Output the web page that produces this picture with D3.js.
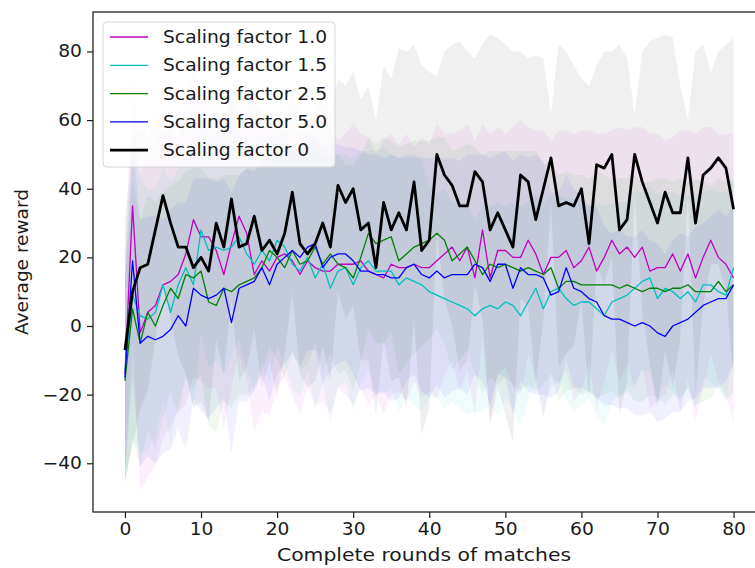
<!DOCTYPE html>
<html>
<head>
<meta charset="utf-8">
<script src="https://cdn.jsdelivr.net/npm/d3@7"></script>
<style>
  html, body { margin: 0; padding: 0; background: #fff; }
  svg { display: block; font-family: "DejaVu Sans", sans-serif; }
</style>
</head>
<body>
<script>
const rounds = d3.range(0, 81);

const labels = ['Scaling factor 1.0', 'Scaling factor 1.5', 'Scaling factor 2.5', 'Scaling factor 5.0', 'Scaling factor 0'];

const meanF10 = [-14,35,-2,4,6,12,13,15,21,31,26,26,22,15,24,32,27,15,19,16,20,21,19,15,19,17,16,16,18,18,18,19,16,15,14,18,17,17,18,17,17,19,21,23,19,23,14,28,14,22,22,20,20,25,21,15,20,20,22,17,19,23,16,20,25,21,23,20,23,16,17,17,21,16,21,14,20,25,20,18,14];
const meanF15 = [-13,9,3,2,4,12,4,12,17,12,28,22,23,22,23,26,21,18,22,19,25,23,18,16,20,14,18,11,16,17,12,17,19,16,16,16,12,14,13,12,10,9,8,7,6,5,3,5,6,5,7,6,3,7,11,5,10,11,8,6,7,7,5,3,7,8,9,11,13,14,8,11,10,8,10,7,12,12,10,9,17];
const meanF25 = [-16,5,-5,4,0,6,11,8,15,14,16,7,6,11,10,12,13,14,17,22,20,17,22,18,19,23,18,21,18,17,14,20,27,24,25,26,19,21,23,24,25,27,25,19,21,23,19,15,18,17,18,17,16,17,16,15,17,11,13,13,12,12,12,12,12,11,12,11,10,11,11,10,11,11,12,10,10,10,13,10,12];
const meanF50 = [-15,19,-5,-3,-4,-3,-1,3,0,11,9,8,9,11,1,11,12,13,17,12,18,20,22,20,23,24,17,20,21,21,19,16,16,15,15,14,14,17,18,15,14,16,14,15,15,15,18,17,13,18,18,11,17,15,15,14,9,10,17,11,10,8,7,3,2,2,1,0,1,0,-2,-3,0,1,2,4,6,7,8,8,12];
const meanF0 = [-7,10,17,18,28,38,30,23,23,17,20,16,30,23,37,23,24,32,22,25,21,27,39,24,21,24,30,23,41,36,40,28,30,17,36,28,33,28,42,22,25,50,44,41,35,35,45,42,28,33,28,23,44,42,31,40,49,35,36,35,40,24,47,46,50,28,31,50,42,36,30,39,33,33,49,30,44,46,49,46,34];

const stdF10 = [30,40,46,48,47,45,42,40,44,46,42,44,40,45,42,40,43,46,44,42,38,36,39,41,37,40,38,42,36,38,41,37,39,35,40,38,36,39,34,38,36,40,35,33,38,36,40,31,42,36,34,38,40,33,36,42,34,37,35,39,38,34,40,36,32,37,34,38,35,40,39,37,34,41,36,42,38,33,36,38,42];
const stdF15 = [34,42,40,38,36,34,38,34,32,36,30,34,33,36,32,30,34,36,33,35,31,34,36,37,33,38,35,39,34,33,37,34,32,35,36,34,37,35,36,37,31,30,32,29,30,31,28,30,29,31,28,30,32,29,27,31,28,27,29,31,30,28,31,32,29,28,27,28,26,27,30,28,29,30,28,31,27,28,29,30,26];
const stdF25 = [30,38,36,34,36,33,30,34,30,32,30,36,37,33,34,32,33,32,30,28,30,32,29,31,30,28,31,29,32,30,33,30,28,29,30,28,33,32,31,30,29,28,30,32,31,30,33,35,33,34,33,34,35,34,35,32,31,33,32,31,32,31,33,32,31,32,31,33,32,31,32,33,31,32,30,33,32,31,30,32,31];
const stdF50 = [28,34,36,35,36,34,35,33,36,32,34,35,33,32,38,33,34,32,31,34,32,31,30,32,30,31,34,33,32,31,33,35,34,35,34,36,35,33,32,34,35,33,35,34,33,35,32,33,36,32,33,37,33,34,35,34,30,29,27,29,28,27,28,26,25,26,25,26,27,25,26,24,25,26,24,25,24,25,26,24,23];
const stdF0 = [38,45,41,37,32,24,28,32,37,41,42,44,34,37,29,39,36,33,40,35,42,35,29,38,39,40,36,39,31,34,34,38,40,43,40,44,48,52,40,54,49,23,36,41,48,45,33,40,57,51,54,57,36,36,48,38,13,47,44,41,32,46,29,34,30,54,47,12,38,47,54,46,51,37,11,50,38,28,31,36,50];

const xTicks = [0, 10, 20, 30, 40, 50, 60, 70, 80],
      yTicks = [-40, -20, 0, 20, 40, 60, 80];

const series = [
  { name: labels[0], mean: meanF10, std: stdF10, color: '#bf00bf', width: 1.3 },
  { name: labels[1], mean: meanF15, std: stdF15, color: '#00bfbf', width: 1.3 },
  { name: labels[2], mean: meanF25, std: stdF25, color: '#008000', width: 1.3 },
  { name: labels[3], mean: meanF50, std: stdF50, color: '#0000ff', width: 1.3 },
  { name: labels[4], mean: meanF0, std: stdF0, color: '#000000', width: 2.8 }
];

const width = 755,
      height = 568,
      plotLeft = 93,
      plotRight = 764,
      plotTop = 12,
      plotBottom = 512,
      fontSize = 17,
      labelSize = 18.5,
      stretchX = 1.1;   // the picture is a bit wider than tall in its glyphs

const xScale = d3.scaleLinear().domain([-4.2, 84]).range([plotLeft, plotRight]),
      yScale = d3.scaleLinear().domain([-54.2, 91.5]).range([plotBottom, plotTop]);

const svg = d3.select('body')
              .append('svg')
              .attr('width', width)
              .attr('height', height);

// widen text horizontally around its anchor x
function stretch(sel, x0) {
  sel.attr('transform', 'translate(' + x0 + ',0) scale(' + stretchX + ',1) translate(' + (-x0) + ',0)');
}

const area = d3.area()
               .x((d, i) => xScale(rounds[i]))
               .y0(d => yScale(d.lo))
               .y1(d => yScale(d.hi)),
      line = d3.line()
               .x((d, i) => xScale(rounds[i]))
               .y(d => yScale(d));

// bands first, then lines on top
series.forEach(s => {
  const band = s.mean.map((m, i) => ({ lo: m - s.std[i], hi: m + s.std[i] }));
  svg.append('path')
     .attr('d', area(band))
     .attr('fill', s.color)
     .attr('fill-opacity', 0.06);
});

series.forEach(s => {
  svg.append('path')
     .attr('d', line(s.mean))
     .attr('fill', 'none')
     .attr('stroke', s.color)
     .attr('stroke-width', s.width)
     .attr('stroke-linejoin', 'round');
});

// axes
const xAxis = d3.axisBottom(xScale).tickValues(xTicks).tickSize(6).tickPadding(5),
      yAxis = d3.axisLeft(yScale).tickValues(yTicks).tickSize(6).tickPadding(5)
                .tickFormat(d => d < 0 ? '\u2212' + Math.abs(d) : d);

const gx = svg.append('g')
              .attr('transform', 'translate(0,' + plotBottom + ')')
              .call(xAxis);
const gy = svg.append('g')
              .attr('transform', 'translate(' + plotLeft + ',0)')
              .call(yAxis);

[gx, gy].forEach(g => {
  g.select('.domain').remove();
  g.selectAll('line').attr('stroke', '#1a1a1a').attr('stroke-width', 1.2);
  g.selectAll('text')
   .attr('fill', '#1a1a1a')
   .style('font-size', fontSize + 'px')
   .style('font-family', '"DejaVu Sans", sans-serif');
});
stretch(gx.selectAll('text'), 0);
stretch(gy.selectAll('text'), -11);

// frame
svg.append('rect')
   .attr('x', plotLeft)
   .attr('y', plotTop)
   .attr('width', plotRight - plotLeft)
   .attr('height', plotBottom - plotTop)
   .attr('fill', 'none')
   .attr('stroke', '#222')
   .attr('stroke-width', 1.3);

const xLabelX = 424;
svg.append('text')
   .attr('x', xLabelX)
   .attr('y', 561)
   .attr('text-anchor', 'middle')
   .attr('fill', '#1a1a1a')
   .style('font-size', labelSize + 'px')
   .text('Complete rounds of matches')
   .call(stretch, xLabelX);

svg.append('text')
   .attr('transform', 'translate(28,' + (plotTop + plotBottom) / 2 + ') rotate(-90)')
   .attr('text-anchor', 'middle')
   .attr('fill', '#1a1a1a')
   .style('font-size', labelSize + 'px')
   .text('Average reward');

// legend
const legend = svg.append('g');

legend.append('rect')
      .attr('x', 103)
      .attr('y', 22)
      .attr('width', 232)
      .attr('height', 145)
      .attr('rx', 4)
      .attr('fill', '#fff')
      .attr('fill-opacity', 0.8)
      .attr('stroke', '#d6d6d6');

legend.selectAll('line')
      .data(series)
      .enter()
      .append('line')
      .attr('x1', 110)
      .attr('x2', 148)
      .attr('y1', (d, i) => 37 + i * 28.3)
      .attr('y2', (d, i) => 37 + i * 28.3)
      .attr('stroke', d => d.color)
      .attr('stroke-width', d => d.width);

legend.selectAll('text')
      .data(series)
      .enter()
      .append('text')
      .attr('x', 163)
      .attr('y', (d, i) => 37 + i * 28.3)
      .attr('dy', '0.36em')
      .attr('fill', '#1a1a1a')
      .style('font-size', fontSize + 'px')
      .text(d => d.name)
      .call(stretch, 163);
</script>
</body>
</html>
